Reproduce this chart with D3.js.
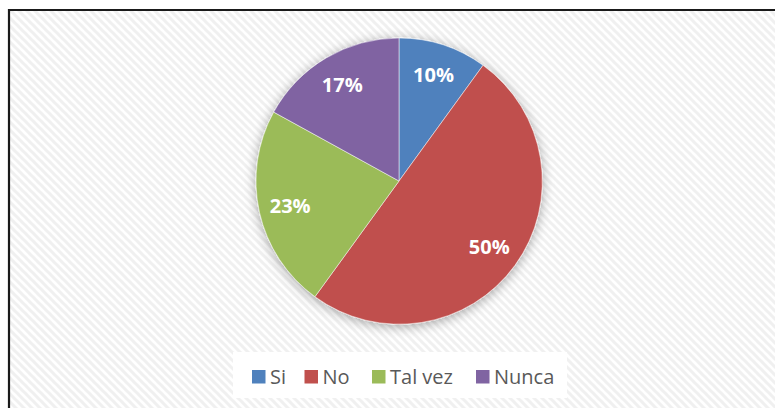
<!DOCTYPE html>
<html><head><meta charset="utf-8">
<script src="https://cdn.jsdelivr.net/npm/d3@7"></script>
<style>html,body{margin:0;padding:0;background:#fff;overflow:hidden}</style>
</head><body>
<svg id="chart" width="775" height="408"></svg>
<script>
const categories = ["Si", "No", "Tal vez", "Nunca"];
const values = [10, 50, 23, 17];
const colors = ["#4F81BD", "#C0504D", "#9BBB59", "#8064A2"];

const svg = d3.select("#chart");
const defs = svg.append("defs");
const pat = defs.append("pattern").attr("id","hatch").attr("patternUnits","userSpaceOnUse")
  .attr("width",8).attr("height",8);
pat.append("rect").attr("width",8).attr("height",8).attr("fill","#ffffff");
pat.append("path").attr("d","M-2,-2 L10,10 M-2,6 L2,10 M6,-2 L10,2").attr("stroke","#f0f0f0").attr("stroke-width",3);

const f = defs.append("filter").attr("id","shadow").attr("x","-30%").attr("y","-30%").attr("width","160%").attr("height","160%");
f.append("feGaussianBlur").attr("in","SourceAlpha").attr("stdDeviation",6).attr("result","b");
f.append("feOffset").attr("in","b").attr("dx",0).attr("dy",2).attr("result","o");
f.append("feComponentTransfer").attr("in","o").attr("result","s").append("feFuncA").attr("type","linear").attr("slope",0.35);
const m = f.append("feMerge"); m.append("feMergeNode").attr("in","s"); m.append("feMergeNode").attr("in","SourceGraphic");

// background + border
svg.append("rect").attr("x",9).attr("y",10).attr("width",780).attr("height",420).attr("fill","url(#hatch)");
svg.append("path").attr("d","M9,420 L9,10 L790,10").attr("fill","none").attr("stroke","#1a1a1a").attr("stroke-width",2.2);

const cx = 399, cy = 181, r = 143;
const pie = d3.pie().sort(null).value(d => d)(values);
const arc = d3.arc().innerRadius(0).outerRadius(r);
const labelArc = d3.arc().innerRadius(r*0.78).outerRadius(r*0.78);
const g = svg.append("g").attr("transform",`translate(${cx},${cy})`);
const sg = g.append("g").attr("filter","url(#shadow)");
sg.selectAll("path").data(pie).join("path").attr("d",arc)
  .attr("fill",(d,i)=>colors[i]).attr("stroke","#ffffff").attr("stroke-width",0.5);
const total = d3.sum(values);
g.selectAll("text").data(pie).join("text")
  .attr("transform",d=>`translate(${labelArc.centroid(d)})`)
  .attr("text-anchor","middle").attr("dy","0.36em")
  .attr("font-family","'Open Sans', sans-serif").attr("font-weight","bold").attr("font-size",20)
  .attr("fill","#ffffff").text(d=>Math.round(d.data/total*100)+"%");

// legend
const lg = svg.append("g");
lg.append("rect").attr("x",233).attr("y",352).attr("width",334).attr("height",46).attr("fill","#ffffff");
const lx = [252, 304.5, 372, 476];
const items = lg.selectAll("g.item").data(categories).join("g").attr("class","item")
  .attr("transform",(d,i)=>`translate(${lx[i]},370)`);
items.append("rect").attr("width",13.5).attr("height",13.5).attr("fill",(d,i)=>colors[i]);
items.append("text").attr("x",18).attr("y",14).attr("font-family","'Open Sans', sans-serif")
  .attr("font-size",20).attr("fill","#595959").text(d=>d);
</script>
</body></html>
